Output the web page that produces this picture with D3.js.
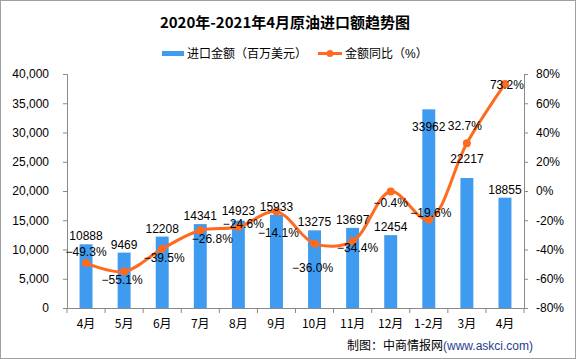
<!DOCTYPE html>
<html><head><meta charset="utf-8">
<script src="https://cdn.jsdelivr.net/npm/d3@7"></script>
<style>
html,body{margin:0;padding:0;background:#fff;}
svg{display:block;}
text{font-family:"Liberation Sans","Noto Sans CJK SC",sans-serif;}
</style></head>
<body>
<svg id="c" width="576" height="359"></svg>
<script>
const categories = ["4月","5月","6月","7月","8月","9月","10月","11月","12月","1-2月","3月","4月"];
const importValues = [10888, 9469, 12208, 14341, 14923, 15933, 13275, 13697, 12454, 33962, 22217, 18855];
const yoyValues = [-49.3, -55.1, -39.5, -26.8, -24.6, -14.1, -36.0, -34.4, -0.4, -19.6, 32.7, 73.2];
const leftTicks = [0, 5000, 10000, 15000, 20000, 25000, 30000, 35000, 40000];
const rightTicks = [-80, -60, -40, -20, 0, 20, 40, 60, 80];

// label placement (dx, dy from point/bar top), styling only
const pctOffsets = [[0,-7],[-2,12],[2,13],[12,13],[5,1],[2,25],[-2,28],[5,11],[0,15],[2,-3],[-2,-13],[2,5]];
const barOffsets = [-4,-4,-4,-4,-6,-4,-4,-4,-4,22,-15,-4];

const W = 576, H = 359;
const m = {left:67, right:52, top:74, bottom:51};
const svg = d3.select("#c");
svg.append("rect").attr("x",0.5).attr("y",0.5).attr("width",W-1).attr("height",H-1)
  .attr("fill","#fff").attr("stroke","#a0a0a0");

const x = d3.scaleBand().domain(d3.range(categories.length)).range([m.left, W-m.right]).paddingInner(0.66).paddingOuter(0.33);
const xb = d3.scaleBand().domain(d3.range(categories.length)).range([m.left, W-m.right]);
const yL = d3.scaleLinear().domain([0,40000]).range([H-m.bottom, m.top]);
const yR = d3.scaleLinear().domain([-80,80]).range([H-m.bottom, m.top]);

const blue = "#3E9BEF", orange = "#FF6A1F", axisC = "#898989";
const fontTick = "12px";

// Title
svg.append("text").attr("x",285).attr("y",28).attr("text-anchor","middle")
  .style("font-family","'Noto Sans CJK SC',sans-serif").style("font-weight","bold").style("font-size","15px")
  .text("2020年-2021年4月原油进口额趋势图");

// Legend
const lg = svg.append("g").style("font-family","'Noto Sans CJK SC',sans-serif").style("font-size","12px");
lg.append("rect").attr("x",162).attr("y",51).attr("width",22).attr("height",5).attr("fill",blue);
lg.append("text").attr("x",187).attr("y",58).text("进口金额（百万美元）");
lg.append("line").attr("x1",318).attr("x2",342).attr("y1",53.5).attr("y2",53.5).attr("stroke",orange).attr("stroke-width",3);
lg.append("circle").attr("cx",330).attr("cy",53.5).attr("r",3.5).attr("fill",orange);
lg.append("text").attr("x",345).attr("y",58).text("金额同比（%）");

// Bars
svg.append("g").selectAll("rect").data(importValues).join("rect")
  .attr("x",(d,i)=>x(i)).attr("width",x.bandwidth())
  .attr("y",d=>yL(d)).attr("height",d=>yL(0)-yL(d)).attr("fill",blue);

// Axes
const axL = svg.append("g").attr("transform",`translate(${m.left},0)`)
  .call(d3.axisLeft(yL).tickValues(leftTicks).tickSize(4).tickPadding(14).tickFormat(d3.format(",")));
const axR = svg.append("g").attr("transform",`translate(${W-m.right},0)`)
  .call(d3.axisRight(yR).tickValues(rightTicks).tickSize(4).tickPadding(8).tickFormat(d=>d+"%"));
const axB = svg.append("g").attr("transform",`translate(0,${H-m.bottom})`)
  .call(d3.axisBottom(xb).tickSize(0).tickPadding(11).tickFormat(i=>categories[i]));
axB.selectAll("text").style("font-family","'Noto Sans CJK SC',sans-serif");
// bottom ticks at band boundaries
svg.append("g").selectAll("line").data(d3.range(categories.length+1)).join("line")
  .attr("x1",i=>m.left + i*xb.step()).attr("x2",i=>m.left + i*xb.step())
  .attr("y1",H-m.bottom).attr("y2",H-m.bottom+5).attr("stroke",axisC);
[axL,axR,axB].forEach(a=>{
  a.selectAll("path,line").attr("stroke",axisC);
  a.selectAll("text").attr("fill","#000").style("font-size",fontTick);
});

// Line
const cx = i => x(i) + x.bandwidth()/2;
const line = d3.line().x((d,i)=>cx(i)).y(d=>yR(d)).curve(d3.curveCatmullRom.alpha(0.5));
svg.append("path").datum(yoyValues).attr("d",line).attr("fill","none")
  .attr("stroke",orange).attr("stroke-width",3).attr("stroke-linejoin","round");
svg.append("g").selectAll("circle").data(yoyValues).join("circle")
  .attr("cx",(d,i)=>cx(i)).attr("cy",d=>yR(d)).attr("r",4).attr("fill",orange);

// Labels
svg.append("g").selectAll("text").data(importValues).join("text")
  .attr("x",(d,i)=>cx(i)).attr("y",(d,i)=>yL(d)+barOffsets[i]).attr("text-anchor","middle")
  .style("font-size","12px").text(d=>d);
svg.append("g").selectAll("text").data(yoyValues).join("text")
  .attr("x",(d,i)=>cx(i)+pctOffsets[i][0]).attr("y",(d,i)=>yR(d)+pctOffsets[i][1]).attr("text-anchor","middle")
  .style("font-size","12px").text(d=>d3.format(".1f")(d)+"%");

// Footer
const ft = svg.append("text").attr("x",347).attr("y",350).style("font-size","12px");
ft.append("tspan").style("font-family","'Noto Sans CJK SC',sans-serif").attr("fill","#000").text("制图：中商情报网");
ft.append("tspan").attr("fill","#1F3D8C").text("(www.askci.com)");
</script>
</body></html>
